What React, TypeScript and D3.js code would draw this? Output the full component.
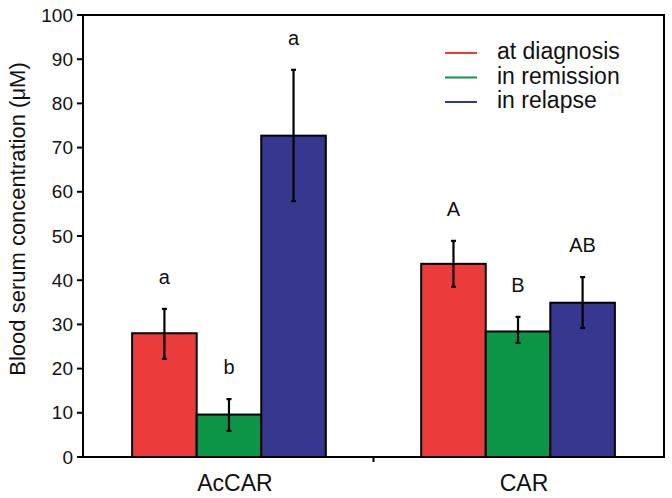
import React from "react";
import * as d3 from "d3";

const groups = ["AcCAR", "CAR"];
const seriesNames = ["at diagnosis", "in remission", "in relapse"];
const seriesColors = ["#ec3b3b", "#0b9647", "#36388f"];

const atDiagnosis = [28.0, 43.7];
const inRemission = [9.6, 28.4];
const inRelapse = [72.7, 34.9];

const atDiagnosisLow = [22.2, 38.5];
const inRemissionLow = [5.9, 25.8];
const inRelapseLow = [57.9, 29.2];

const atDiagnosisHigh = [33.5, 48.9];
const inRemissionHigh = [13.1, 31.7];
const inRelapseHigh = [87.6, 40.7];

const letters = [
  ["a", "A"],
  ["b", "B"],
  ["a", "AB"],
];

const yTicks = [0, 10, 20, 30, 40, 50, 60, 70, 80, 90, 100];

const W = 672;
const H = 498;
const FONT = "'Liberation Sans', Arial, Helvetica, sans-serif";

export default function App() {
  const left = 83;
  const right = 664;
  const top = 15;
  const bottom = 457;

  const y = d3.scaleLinear().domain([0, 100]).range([bottom, top]);
  const x0 = d3
    .scaleBand<string>()
    .domain(groups)
    .range([left, right])
    .paddingInner(0.33)
    .paddingOuter(0.17);
  const x1 = d3
    .scaleBand<string>()
    .domain(seriesNames)
    .range([0, x0.bandwidth()])
    .padding(0);

  const means = [atDiagnosis, inRemission, inRelapse];
  const lows = [atDiagnosisLow, inRemissionLow, inRelapseLow];
  const highs = [atDiagnosisHigh, inRemissionHigh, inRelapseHigh];

  const bars: any[] = [];
  groups.forEach((g, gi) => {
    seriesNames.forEach((s, si) => {
      bars.push({
        g,
        s,
        si,
        gi,
        v: means[si][gi],
        lo: lows[si][gi],
        hi: highs[si][gi],
        letter: letters[si][gi],
      });
    });
  });

  const midTick =
    ((x0(groups[0]) as number) + x0.bandwidth() + (x0(groups[1]) as number)) / 2;

  return (
    <svg
      width={W}
      height={H}
      style={{ position: "absolute", left: 0, top: 0, background: "#fff" }}
      fontFamily={FONT}
    >
      <rect x={0} y={0} width={W} height={H} fill="#fff" />
      {bars.map((b, i) => {
        const bx = (x0(b.g) as number) + (x1(b.s) as number);
        const bw = x1.bandwidth();
        return (
          <rect
            key={"bar" + i}
            x={bx}
            y={y(b.v)}
            width={bw}
            height={y(0) - y(b.v)}
            fill={seriesColors[b.si]}
            stroke="#000"
            strokeWidth={2}
          />
        );
      })}
      {bars.map((b, i) => {
        const cx = (x0(b.g) as number) + (x1(b.s) as number) + x1.bandwidth() / 2;
        return (
          <g key={"err" + i} stroke="#000" strokeWidth={2.2}>
            <line x1={cx} x2={cx} y1={y(b.lo)} y2={y(b.hi)} />
            <line x1={cx - 2.5} x2={cx + 2.5} y1={y(b.lo)} y2={y(b.lo)} />
            <line x1={cx - 2.5} x2={cx + 2.5} y1={y(b.hi)} y2={y(b.hi)} />
          </g>
        );
      })}
      {bars.map((b, i) => {
        const cx = (x0(b.g) as number) + (x1(b.s) as number) + x1.bandwidth() / 2;
        return (
          <text
            key={"let" + i}
            x={cx}
            y={y(b.hi) - 25}
            textAnchor="middle"
            fontSize={20}
            fill="#111"
          >
            {b.letter}
          </text>
        );
      })}
      {/* frame */}
      <rect
        x={left}
        y={top}
        width={right - left}
        height={bottom - top}
        fill="none"
        stroke="#000"
        strokeWidth={2}
      />
      {/* y ticks */}
      {yTicks.map((t) => (
        <g key={"yt" + t}>
          <line x1={left - 6} x2={left} y1={y(t)} y2={y(t)} stroke="#000" strokeWidth={2} />
          <text
            x={left - 10}
            y={y(t)}
            dy="0.35em"
            textAnchor="end"
            fontSize={19}
            fill="#111"
          >
            {t}
          </text>
        </g>
      ))}
      {/* x axis tick between groups */}
      <line x1={midTick} x2={midTick} y1={bottom} y2={bottom + 5} stroke="#000" strokeWidth={2} />
      {groups.map((g) => (
        <text
          key={"xl" + g}
          x={(x0(g) as number) + x0.bandwidth() / 2 + 6}
          y={491}
          textAnchor="middle"
          fontSize={23}
          fill="#111"
        >
          {g}
        </text>
      ))}
      {/* y label */}
      <text
        transform={`translate(25,219) rotate(-90)`}
        textAnchor="middle"
        fontSize={22}
        fill="#111"
      >
        Blood serum concentration (μM)
      </text>
      {/* legend */}
      {seriesNames.map((s, i) => {
        const by = 59 + i * 24.5;
        return (
          <g key={"lg" + s}>
            <line
              x1={445}
              x2={477}
              y1={by - 6}
              y2={by - 6}
              stroke={seriesColors[i]}
              strokeWidth={2}
            />
            <text x={497} y={by} fontSize={23} fill="#111">
              {s}
            </text>
          </g>
        );
      })}
    </svg>
  );
}
